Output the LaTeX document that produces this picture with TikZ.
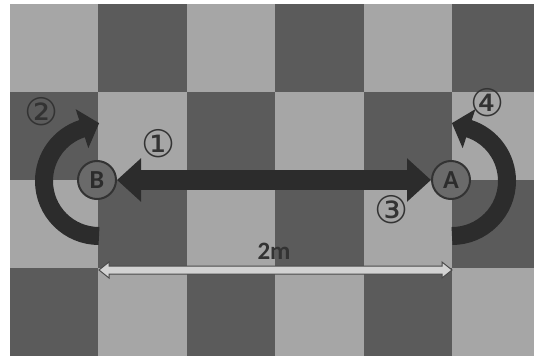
\documentclass[tikz,border=0pt]{standalone}
\usepackage{fontspec}
\setmainfont{Carlito}
\newfontfamily\symfont{DejaVu Sans}
\usetikzlibrary{arrows.meta,calc}
\definecolor{sqlight}{HTML}{A6A6A6}
\definecolor{sqdark}{HTML}{5B5B5B}
\definecolor{arrowdark}{HTML}{2C2C2C}
\definecolor{labelgray}{HTML}{333333}
\definecolor{dimfill}{HTML}{D2D2D2}
\definecolor{dimedge}{HTML}{4A4A4A}
\definecolor{pointfill}{HTML}{6A6A6A}
\begin{document}
\begin{tikzpicture}[x=1pt,y=1pt,
  point/.style={circle, fill=pointfill, draw=labelgray, line width=2pt,
    minimum size=38pt, inner sep=0pt,
    font=\bfseries\fontsize{26}{26}\selectfont, text=arrowdark},
  steplabel/.style={text=labelgray, font=\symfont\fontsize{38}{38}\selectfont, inner sep=0pt},
  movearrow/.style={draw=arrowdark, line width=20pt,
    {Triangle[width=42pt,length=24pt]}-{Triangle[width=42pt,length=24pt]}},
  turnarrow/.style={draw=arrowdark, line width=18pt, -{Triangle[width=40pt,length=18pt]}},
  dimshape/.style={fill=dimfill, draw=dimedge, line width=1pt, line join=miter},
  dimlabel/.style={text=labelgray, font=\bfseries\fontsize{25}{25}\selectfont, inner sep=0pt}
]
\useasboundingbox (0,0) rectangle (534,356);
\fill[white] (0,0) rectangle (534,356);
\begin{scope}
\clip (0,0) rectangle (534,356);
\foreach \i in {0,...,3} {
  \foreach \j in {0,...,5} {
    \pgfmathtruncatemacro\p{mod(\i+\j,2)}
    \ifnum\p=0 \def\sqc{sqlight}\else\def\sqc{sqdark}\fi
    \fill[\sqc] (10+88.4*\j, 352-88*\i) rectangle (98.4+88.4*\j, 264-88*\i);
  }
}
\end{scope}

% points
\node[point] (B) at (97,176) {B};
\node[point] (A) at (451,176) {A};

% arrow 1/3
\draw[movearrow] (B) -- (A);

% turning arrows
\coordinate (c2start) at (99,120);
\draw[turnarrow] (c2start) arc[start angle=270, end angle=108, radius=55] -- ++(18:18);
\coordinate (c4start) at (452,120);
\draw[turnarrow] (c4start) arc[start angle=-90, end angle=72, radius=55] -- ++(162:18);

% dimension arrow
\coordinate (dimL) at (99,86);
\coordinate (dimR) at (452,86);
\filldraw[dimshape] (dimL) -- ($(dimL)+(10,8)$) -- ($(dimL)+(10,4)$) -- ($(dimR)+(-10,4)$)
  -- ($(dimR)+(-10,8)$) -- (dimR) -- ($(dimR)+(-10,-8)$) -- ($(dimR)+(-10,-4)$)
  -- ($(dimL)+(10,-4)$) -- ($(dimL)+(10,-8)$) -- cycle;
\node[dimlabel] (dist) at (274,105) {2m};

% step labels
\node[steplabel] (l1) at (159,212) {①};
\node[steplabel] (l2) at (42,244) {②};
\node[steplabel] (l3) at (392,146) {③};
\node[steplabel] (l4) at (488,253) {④};
\end{tikzpicture}
\end{document}
